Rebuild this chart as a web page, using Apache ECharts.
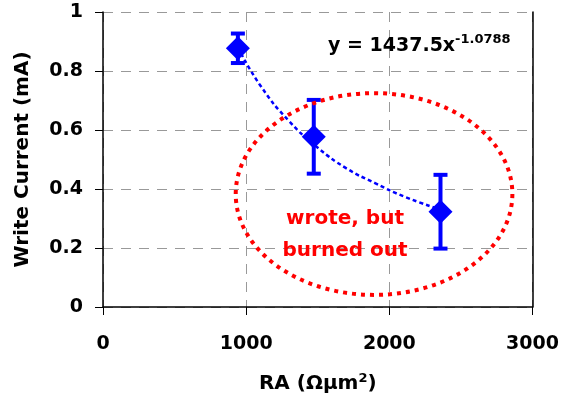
<!DOCTYPE html>
<html>
<head>
<meta charset="utf-8">
<title>Write Current vs RA</title>
<script src="https://cdn.jsdelivr.net/npm/echarts@6/dist/echarts.min.js"></script>
</head>
<body style="margin:0">
	<div id="main" style="width: 562px; height: 402px;"></div>
	<script type="text/javascript">
		// measured points (RA, write current) with error half-widths
		var raValues = [942, 1472, 2357];
		var currentValues = [0.877, 0.577, 0.323];
		var errValues = [0.05, 0.125, 0.125];

		// power-law trendline
		var trendX = [942, 1100, 1300, 1500, 1700, 1900, 2100, 2357];
		var trendY = [0.88, 0.75, 0.63, 0.54, 0.47, 0.42, 0.375, 0.33];

		var font = 'DejaVu Sans, sans-serif';
		var myChart = echarts.init(document.getElementById('main'));

		var points = raValues.map(function (x, i) { return [x, currentValues[i]]; });
		var errData = raValues.map(function (x, i) {
			return [x, currentValues[i] - errValues[i], currentValues[i] + errValues[i]];
		});
		var trendData = trendX.map(function (x, i) { return [x, trendY[i]]; });

		var option = {
			animation: false,
			grid: { left: 103, right: 29, top: 12, bottom: 95 },
			xAxis: {
				type: 'value', min: 0, max: 3000, interval: 1000,
				name: '{a|RA (Ωμm}{s|2}{a|)}',
				nameLocation: 'middle', nameGap: 65,
				nameTextStyle: {
					rich: {
						a: { fontFamily: font, fontWeight: 'bold', fontSize: 20, color: '#000', lineHeight: 24 },
						s: { fontFamily: font, fontWeight: 'bold', fontSize: 13, color: '#000', verticalAlign: 'top', lineHeight: 24 }
					}
				},
				axisLine: { onZero: false, lineStyle: { color: '#000', width: 1.5 } },
				axisTick: { show: true, length: 8, lineStyle: { color: '#000' } },
				axisLabel: {
					margin: 28, color: '#000', fontFamily: font, fontWeight: 'bold', fontSize: 19,
					formatter: function (v) { return String(v); }
				},
				splitLine: { show: true, lineStyle: { color: '#999', type: [10, 8], width: 1 } }
			},
			yAxis: [{
				type: 'value', min: 0, max: 1, interval: 0.2,
				name: 'Write Current (mA)',
				nameLocation: 'middle', nameGap: 70,
				nameTextStyle: { fontFamily: font, fontWeight: 'bold', fontSize: 20, color: '#000' },
				axisLine: { show: true, lineStyle: { color: '#000', width: 1.5 } },
				axisTick: { show: true, length: 8, lineStyle: { color: '#000' } },
				axisLabel: {
					margin: 20, color: '#000', fontFamily: font, fontWeight: 'bold', fontSize: 19,
					formatter: function (v) { return String(Math.round(v * 10) / 10); }
				},
				splitLine: { show: true, lineStyle: { color: '#999', type: [10, 8], width: 1 } }
			}, {
				type: 'value', min: 0, max: 1, position: 'right',
				axisLine: { show: true, lineStyle: { color: '#000', width: 1.5 } },
				axisTick: { show: false }, axisLabel: { show: false }, splitLine: { show: false }
			}],
			series: [{
				type: 'line',
				data: trendData,
				smooth: true,
				showSymbol: false,
				lineStyle: { color: '#0000ff', width: 2.5, type: [4, 3] },
				z: 2
			}, {
				type: 'custom',
				data: errData,
				renderItem: function (params, api) {
					var top = api.coord([api.value(0), api.value(2)]);
					var bot = api.coord([api.value(0), api.value(1)]);
					var hw = 7;
					var st = { stroke: '#0000ff', lineWidth: 4 };
					return {
						type: 'group',
						children: [
							{ type: 'line', shape: { x1: top[0], y1: top[1], x2: bot[0], y2: bot[1] }, style: st },
							{ type: 'line', shape: { x1: top[0] - hw, y1: top[1], x2: top[0] + hw, y2: top[1] }, style: st },
							{ type: 'line', shape: { x1: bot[0] - hw, y1: bot[1], x2: bot[0] + hw, y2: bot[1] }, style: st }
						]
					};
				},
				z: 3
			}, {
				type: 'scatter',
				data: points,
				symbol: 'diamond',
				symbolSize: [24, 24],
				itemStyle: { color: '#0000ff', opacity: 1 },
				z: 4
			}]
		};
		myChart.setOption(option);

		// red dotted ellipse around the burned-out region
		var c = myChart.convertToPixel({ gridIndex: 0 }, [1893, 0.383]);
		var e = myChart.convertToPixel({ gridIndex: 0 }, [1893 + 966, 0.383 + 0.342]);
		myChart.setOption({
			graphic: [{
				type: 'ellipse',
				shape: { cx: c[0], cy: c[1], rx: e[0] - c[0], ry: c[1] - e[1] },
				style: { fill: 'none', stroke: '#ff0000', lineWidth: 4, lineDash: [4, 5] },
				z: 5
			}, {
				type: 'text',
				left: 328, top: 33,
				style: {
					text: '{a|y = 1437.5x}{s|-1.0788}',
					rich: {
						a: { fontFamily: font, fontWeight: 'bold', fontSize: 19, fill: '#000', lineHeight: 26 },
						s: { fontFamily: font, fontWeight: 'bold', fontSize: 13, fill: '#000', verticalAlign: 'top', lineHeight: 26 }
					}
				},
				z: 6
			}, {
				type: 'text',
				x: 345, y: 235,
				style: {
					text: 'wrote, but\nburned out',
					fontFamily: font, fontWeight: 'bold', fontSize: 20, fill: '#ff0000',
					lineHeight: 32, align: 'center', verticalAlign: 'middle'
				},
				z: 6
			}]
		});
	</script>
</body>
</html>
